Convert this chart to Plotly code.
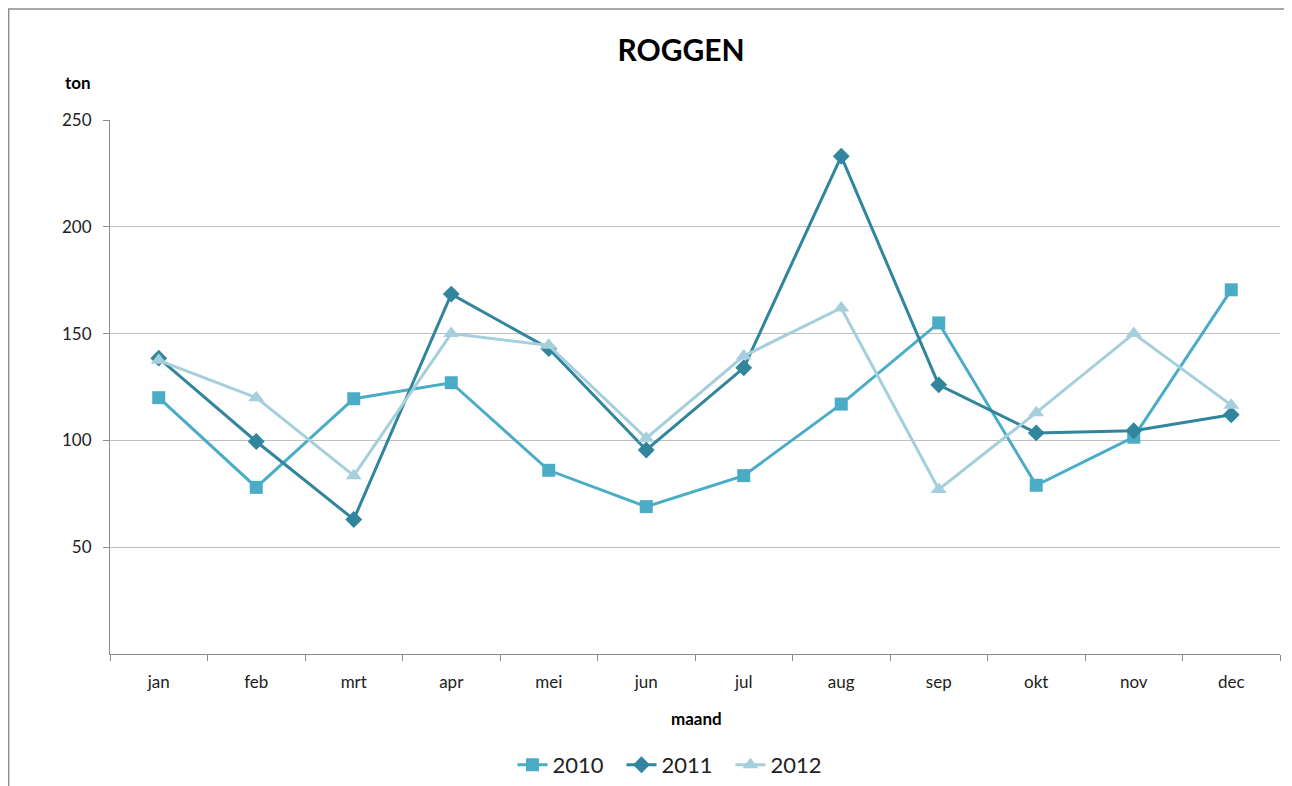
import plotly.graph_objects as go

maanden = ["jan", "feb", "mrt", "apr", "mei", "jun", "jul", "aug", "sep", "okt", "nov", "dec"]
ton_2010 = [120, 78, 119.5, 127, 86, 69, 83.5, 117, 155, 79, 101.5, 170.5]
ton_2011 = [138.5, 99.5, 63, 168.5, 143, 95.5, 134, 233, 126, 103.5, 104.5, 112]
ton_2012 = [137.5, 120, 83.5, 150, 144.5, 101, 139.5, 162, 77, 113, 150, 116.5]

fig = go.Figure()
fig.add_trace(go.Scatter(x=maanden, y=ton_2010, name="2010", mode="lines+markers",
                         line=dict(color="#4bacc6", width=3),
                         marker=dict(symbol="square", size=13, color="#4bacc6")))
fig.add_trace(go.Scatter(x=maanden, y=ton_2011, name="2011", mode="lines+markers",
                         line=dict(color="#31859c", width=3),
                         marker=dict(symbol="diamond", size=13, color="#31859c")))
fig.add_trace(go.Scatter(x=maanden, y=ton_2012, name="2012", mode="lines+markers",
                         line=dict(color="#a5cfdc", width=3),
                         marker=dict(symbol="triangle-up", size=14, color="#a5cfdc")))

fig.update_layout(
    width=1292, height=786,
    margin=dict(l=102, r=20, t=112, b=140),
    paper_bgcolor="white", plot_bgcolor="white",
    font=dict(family="Lato", size=17, color="#222"),
    title=dict(text="<b>ROGGEN</b>", x=673 / 1292, xanchor="center", y=1 - 42 / 786, yanchor="middle",
               font=dict(size=30, color="black")),
    legend=dict(orientation="h", x=0.344, xanchor="left", yref="container", y=0.0636, yanchor="top",
                entrywidth=64, entrywidthmode="pixels", font=dict(size=22)),
    showlegend=True,
)
fig.update_xaxes(range=[-0.5, 11.5], showline=True, linecolor="#8c8c8c", linewidth=1, ticks="outside",
                 tickson="boundaries", ticklen=6, tickcolor="#8c8c8c", showgrid=False,
                 ticklabelstandoff=13, automargin=False)
fig.update_yaxes(range=[0, 250], showline=True, linecolor="#8c8c8c", linewidth=1,
                 ticks="outside", ticklen=6, tickcolor="#8c8c8c", ticklabelstandoff=8,
                 gridcolor="#bfbfbf", gridwidth=1, zeroline=False, tickvals=[50, 100, 150, 200, 250],
                 automargin=False)

fig.add_annotation(text="<b>ton</b>", xref="paper", yref="paper", x=-0.0274, y=1.071,
                   xanchor="center", yanchor="middle", showarrow=False, font=dict(size=17, color="black"))
fig.add_annotation(text="<b>maand</b>", xref="paper", yref="paper", x=0.501, y=-0.12,
                   xanchor="center", yanchor="middle", showarrow=False, font=dict(size=17, color="black"))
fig.add_shape(type="rect", xref="paper", yref="paper", x0=-0.0866, x1=1.0068, y0=-0.3, y1=1.208,
              line=dict(color="#8c8c8c", width=1.5))

fig.write_html("out.html")
